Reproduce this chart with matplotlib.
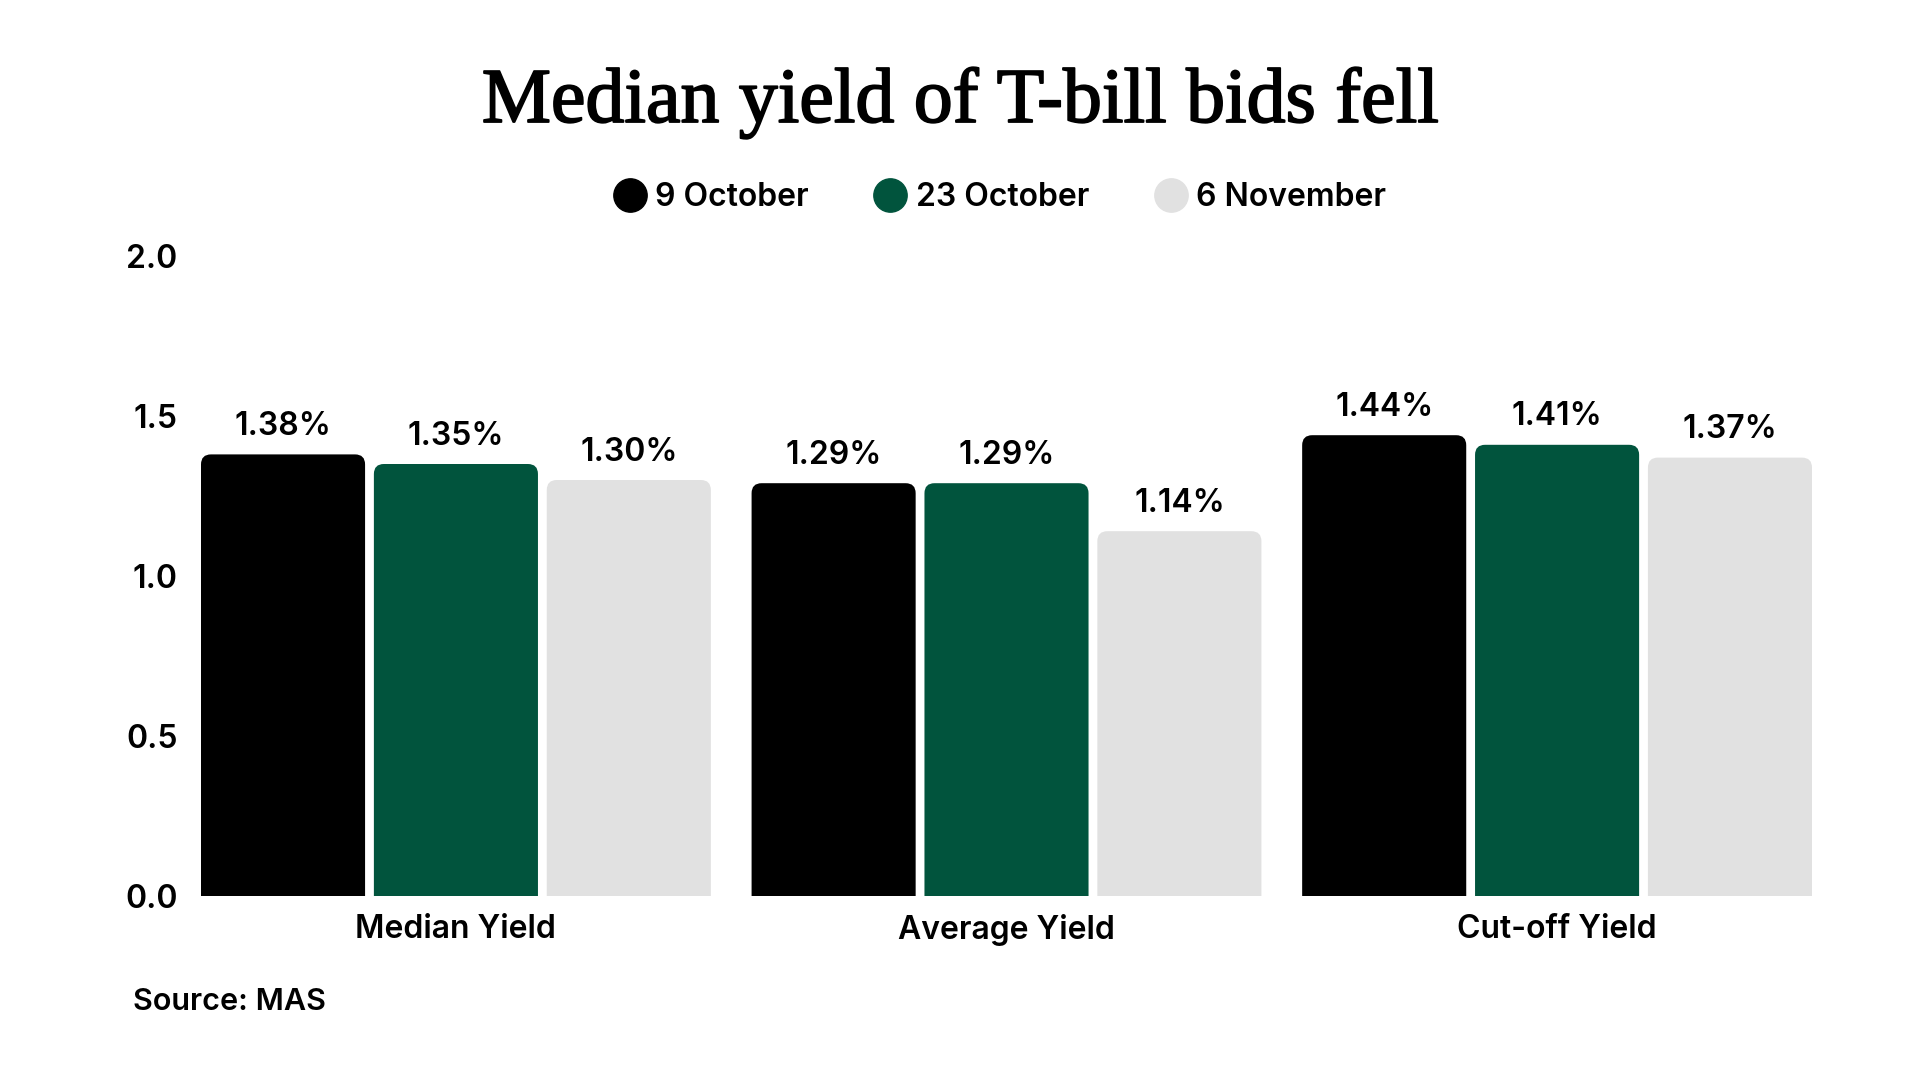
import matplotlib
matplotlib.use("Agg")
import matplotlib.pyplot as plt
import matplotlib.patheffects as pe
from matplotlib.patches import FancyBboxPatch
from matplotlib.lines import Line2D
import numpy as np

# ── Data ──────────────────────────────────────────────────────────────────────
categories = ["Median Yield", "Average Yield", "Cut-off Yield"]
series_names = ["9 October", "23 October", "6 November"]
oct9 = [1.38, 1.29, 1.44]
oct23 = [1.35, 1.29, 1.41]
nov6 = [1.30, 1.14, 1.37]
yticks = [0.0, 0.5, 1.0, 1.5, 2.0]

COLORS = ["#000000", "#01543D", "#E1E1E1"]
SANS = ["Inter", "DejaVu Sans"]
SERIF = ["Liberation Serif", "DejaVu Serif"]
WEIGHT = "semibold"

plt.rcParams["font.family"] = SANS

fig = plt.figure(figsize=(19.2, 10.8), dpi=100)
# axes box in pixels: x 201..1812, y(0)=896, y(2)=256
ax = fig.add_axes([201 / 1920, 1 - 896 / 1080, 1611 / 1920, 640 / 1080])

x = np.arange(len(categories))
step = 0.314
width = 0.298
xpx = 1611 / 2.926   # px per x unit
ypx = 640 / 2.0      # px per y unit
radius = 10 / xpx

for i, (vals, color) in enumerate(zip([oct9, oct23, nov6], COLORS)):
    bars = ax.bar(x + (i - 1) * step, vals, width, color=color)
    for b, v in zip(bars, vals):
        # swap the square bar for one with rounded top corners
        b.set_visible(False)
        patch = FancyBboxPatch((b.get_x(), -0.05), b.get_width(), b.get_height() + 0.05,
                               boxstyle=f"round,pad=0,rounding_size={radius}",
                               mutation_aspect=xpx / ypx,
                               facecolor=color, edgecolor="none")
        ax.add_patch(patch)
        ax.annotate(f"{v:.2f}%", (b.get_x() + b.get_width() / 2, v),
                    xytext=(0, 14), textcoords="offset points",
                    ha="center", va="baseline", fontsize=23, fontweight=WEIGHT)

ax.set_xlim(-0.463, 2.463)
ax.set_ylim(0, 2.0)
ax.set_yticks(yticks)
ax.set_yticklabels([f"{t:.1f}" for t in yticks])
ax.set_xticks(x)
ax.set_xticklabels(categories)
ax.tick_params(axis="y", length=0, pad=17, labelsize=23)
ax.tick_params(axis="x", length=0, pad=13, labelsize=23)
for lab in ax.get_xticklabels() + ax.get_yticklabels():
    lab.set_fontweight(WEIGHT)
for s in ax.spines.values():
    s.set_visible(False)

fig.text(960 / 1920, 1 - 122 / 1080, "Median yield of T-bill bids fell", ha="center",
         va="baseline", fontsize=56, family=SERIF,
         path_effects=[pe.withStroke(linewidth=1.3, foreground="black")])

handles = [Line2D([0], [0], marker="o", ls="none", ms=24, markerfacecolor=c,
                  markeredgecolor=c, label=n) for n, c in zip(series_names, COLORS)]
leg = fig.legend(handles=handles, loc="center", bbox_to_anchor=(1000 / 1920, 1 - 198 / 1080),
                 ncol=3, frameon=False, fontsize=23, handletextpad=0.3,
                 columnspacing=2.05, handlelength=1.0)
for t in leg.get_texts():
    t.set_fontweight(WEIGHT)

fig.text(133 / 1920, 1 - 1002 / 1080, "Source: MAS", ha="left", va="center", fontsize=22,
         fontweight=WEIGHT)

fig.savefig("out.png", dpi=100)
